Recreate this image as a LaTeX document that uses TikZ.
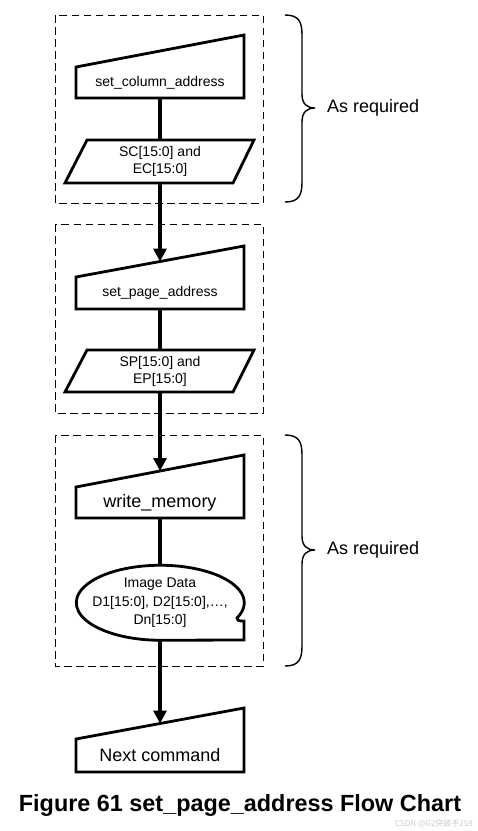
\documentclass[tikz,border=0pt]{standalone}
\usepackage{fontspec}
\setmainfont{Liberation Sans}
\newfontfamily\cjk{Noto Sans CJK SC}
\usetikzlibrary{arrows.meta}
\tikzset{
  shapeline/.style={draw=black, line width=2.8pt, line join=miter, fill=white},
  grpbox/.style={draw=black, line width=0.9pt, dash pattern=on 7.5pt off 4.5pt},
  conn/.style={draw=black, line width=4pt},
  arrconn/.style={conn, -{Triangle[length=13pt,width=13pt]}},
  bracestyle/.style={draw=black, line width=1.4pt},
  smalltxt/.style={font=\fontsize{14}{17}\selectfont, align=center, inner sep=0pt},
  bigtxt/.style={font=\fontsize{18}{21}\selectfont, inner sep=0pt},
  sidetxt/.style={font=\fontsize{18}{21}\selectfont, anchor=west, inner sep=0pt},
}
\begin{document}
\begin{tikzpicture}[x=1pt,y=-1pt]
\useasboundingbox (0,0) rectangle (478,831);
% group boxes
\draw[grpbox] (55,15) rectangle (263,203);
\draw[grpbox] (55,224) rectangle (263,413);
\draw[grpbox] (55,435) rectangle (263,666);
% connector endpoints
\coordinate (s1b) at (160,98);
\coordinate (p1t) at (160,140);
\coordinate (p1b) at (160,183);
\coordinate (s2t) at (160,261.5);
\coordinate (s2b) at (160,309);
\coordinate (p2t) at (160,350);
\coordinate (p2b) at (160,392);
\coordinate (s3t) at (160,471);
\coordinate (s3b) at (160,518);
\coordinate (dt) at (160,565);
\coordinate (db) at (160,640);
\coordinate (s4t) at (160,723.5);
% connectors
\draw[conn] (s1b) -- (p1t);
\draw[arrconn] (p1b) -- (s2t);
\draw[conn] (s2b) -- (p2t);
\draw[arrconn] (p2b) -- (s3t);
\draw[conn] (s3b) -- (dt);
\draw[arrconn] (db) -- (s4t);
% shapes
\draw[shapeline] (76,67) -- (244,35) -- (244,98) -- (76,98) -- cycle;
\node[smalltxt] (t1) at (160,82.5) {set\_column\_address};
\draw[shapeline] (87,140) -- (254,140) -- (233,183) -- (65,183) -- cycle;
\node[smalltxt] (t2) at (160,161.5) {SC[15:0] and\\EC[15:0]};
\draw[shapeline] (76,277) -- (244,246) -- (244,309) -- (76,309) -- cycle;
\node[smalltxt] (t3) at (160,292.5) {set\_page\_address};
\draw[shapeline] (87,350) -- (254,350) -- (233,392) -- (65,392) -- cycle;
\node[smalltxt] (t4) at (160,371) {SP[15:0] and\\EP[15:0]};
\draw[shapeline] (76,487) -- (244,455) -- (244,518) -- (76,518) -- cycle;
\node[bigtxt] (t5) at (160,503) {write\_memory};
\draw[shapeline] (237,618) arc[start angle=-24, end angle=270, x radius=84pt, y radius=37.5pt]
  -- (244,640) -- (244,621) -- (241,621) .. controls (238.5,621) and (237,620) .. (237,618) -- cycle;
\node[smalltxt, font=\fontsize{14}{18.5}\selectfont] (t6) at (160,603) {Image Data\\D1[15:0], D2[15:0],\dots,\\Dn[15:0]};
\draw[shapeline] (76,739) -- (244,708) -- (244,772) -- (76,772) -- cycle;
\node[bigtxt] (t7) at (160,755) {Next command};
% braces
\draw[bracestyle] (285,15) .. controls (299,15) and (302,22) .. (302,35) -- (302,94)
  .. controls (302,104) and (307,108) .. (315,108)
  .. controls (307,108) and (302,112) .. (302,122) -- (302,182)
  .. controls (302,195) and (299,202) .. (285,202);
\node[sidetxt] (r1) at (327,108) {As required};
\draw[bracestyle] (285,435) .. controls (299,435) and (302,442) .. (302,455) -- (302,536)
  .. controls (302,546) and (307,550) .. (315,550)
  .. controls (307,550) and (302,554) .. (302,564) -- (302,646)
  .. controls (302,659) and (299,666) .. (285,666);
\node[sidetxt] (r2) at (327,550) {As required};
% caption
\node[font=\fontsize{23.4}{26}\selectfont\bfseries, inner sep=0pt] (cap) at (240,805) {Figure 61 set\_page\_address Flow Chart};
\node[font=\cjk\fontsize{8}{9}\selectfont, text=black!20, anchor=east, inner sep=0pt] (wm) at (473,823.5) {CSDN @G2突破手259};
\end{tikzpicture}
\end{document}
